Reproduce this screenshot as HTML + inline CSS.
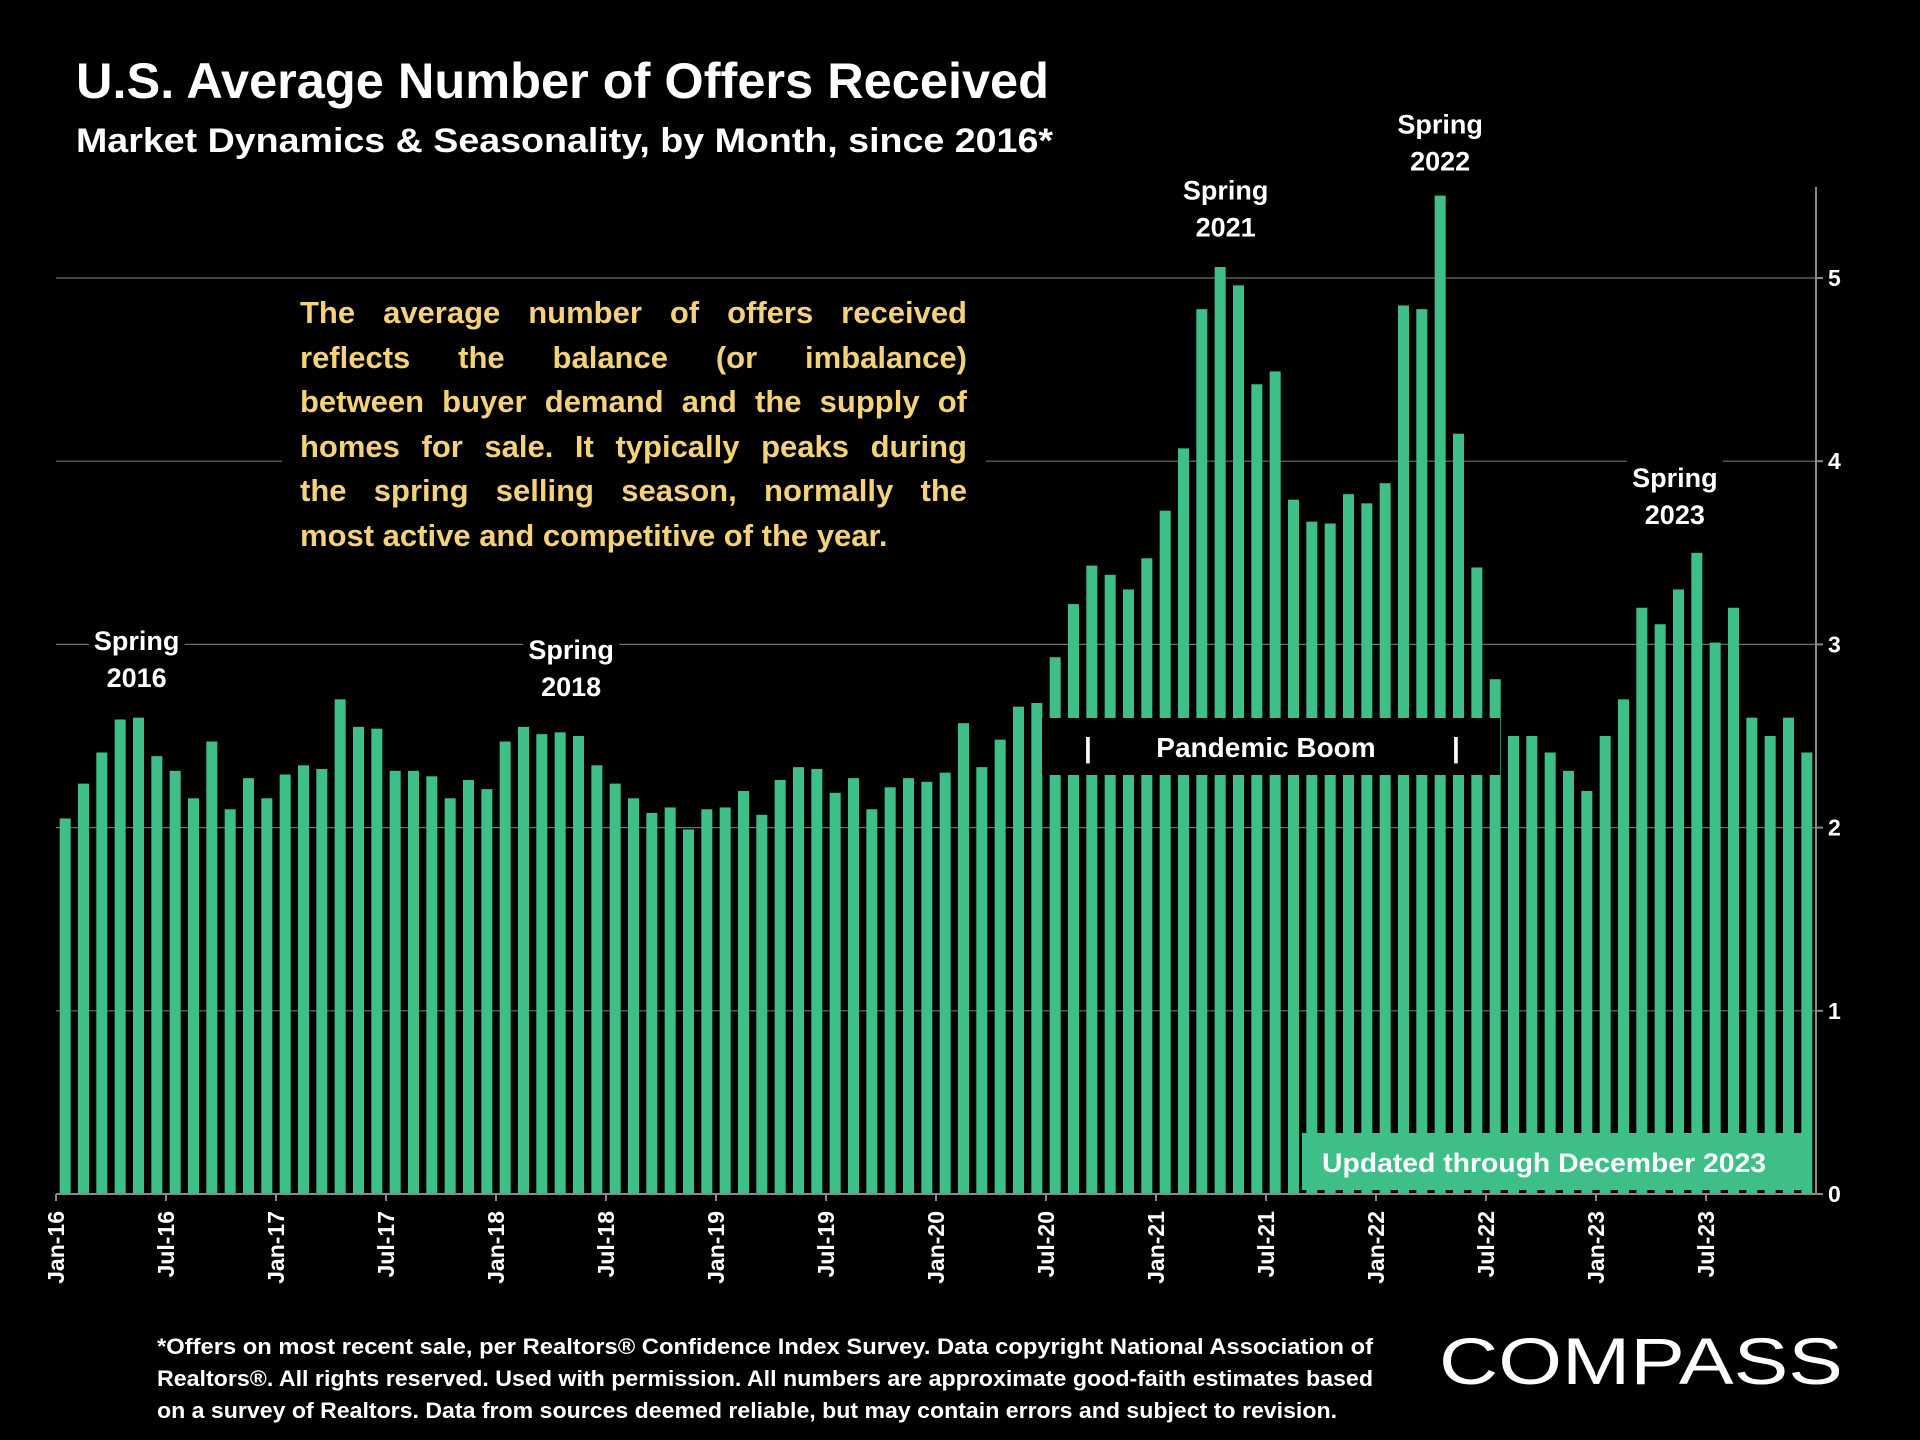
<!DOCTYPE html>
<html><head><meta charset="utf-8">
<style>
html,body{margin:0;padding:0;background:#000;}
svg{display:block;}
text{font-family:"Liberation Sans",sans-serif;font-weight:bold;}
#anno{position:absolute;left:300px;top:291px;width:667px;font-family:"Liberation Sans",sans-serif;font-weight:bold;font-size:31px;color:#f3d27a;}
#anno div{height:44.5px;line-height:44.5px;text-align:justify;text-align-last:justify;white-space:nowrap;}
#anno div.last{text-align-last:left;}
</style></head>
<body>
<svg id="chart" width="1920" height="1440" viewBox="0 0 1920 1440">
<rect x="0" y="0" width="1920" height="1440" fill="#000"/>
<text x="76" y="98" font-size="50" fill="#fff" textLength="973" lengthAdjust="spacingAndGlyphs">U.S. Average Number of Offers Received</text>
<text x="76" y="152" font-size="34" fill="#fff" textLength="977" lengthAdjust="spacingAndGlyphs">Market Dynamics &amp; Seasonality, by Month, since 2016*</text>
<g id="grid"></g>
<g id="springbg"></g>
<g id="bars"></g>
<g id="axes"></g>
<g id="xlabels"></g>
<g id="ylabels"></g>

<rect x="282" y="285" width="704" height="280" fill="#000"/>

<g id="springs"></g>

<rect x="1042" y="718" width="458" height="57" fill="#000"/>
<text x="1084" y="757" font-size="28" fill="#fff">|</text>
<text x="1266" y="757" font-size="28" fill="#fff" text-anchor="middle">Pandemic Boom</text>
<text x="1452" y="757" font-size="28" fill="#fff">|</text>

<rect x="1302" y="1133" width="508" height="57" fill="#3fbf88"/>
<text x="1322" y="1172" font-size="27" fill="#fff" textLength="444" lengthAdjust="spacingAndGlyphs">Updated through December 2023</text>

<g fill="#fff" font-size="22">
<text x="157" y="1354" textLength="1216" lengthAdjust="spacingAndGlyphs">*Offers on most recent sale, per Realtors® Confidence Index Survey. Data copyright National Association of</text>
<text x="157" y="1386" textLength="1216" lengthAdjust="spacingAndGlyphs">Realtors®. All rights reserved. Used with permission. All numbers are approximate good-faith estimates based</text>
<text x="157" y="1418" textLength="1180" lengthAdjust="spacingAndGlyphs">on a survey of Realtors. Data from sources deemed reliable, but may contain errors and subject to revision.</text>
</g>
<text x="1439" y="1384" font-size="66" fill="#fff" style="font-weight:normal" textLength="404" lengthAdjust="spacingAndGlyphs">COMPASS</text>
</svg>
<div id="anno">
<div>The average number of offers received</div>
<div>reflects the balance (or imbalance)</div>
<div>between buyer demand and the supply of</div>
<div>homes for sale. It typically peaks during</div>
<div>the spring selling season, normally the</div>
<div class="last">most active and competitive of the year.</div>
</div>
<script>
const categories = [];
const monthNames = ["Jan","Feb","Mar","Apr","May","Jun","Jul","Aug","Sep","Oct","Nov","Dec"];
const years = ["16","17","18","19","20","21","22","23"];
const offers = [
2.05,2.24,2.41,2.59,2.60,2.39,2.31,2.16,2.47,2.10,2.27,2.16,
2.29,2.34,2.32,2.70,2.55,2.54,2.31,2.31,2.28,2.16,2.26,2.21,
2.47,2.55,2.51,2.52,2.50,2.34,2.24,2.16,2.08,2.11,1.99,2.10,
2.11,2.20,2.07,2.26,2.33,2.32,2.19,2.27,2.10,2.22,2.27,2.25,
2.30,2.57,2.33,2.48,2.66,2.68,2.93,3.22,3.43,3.38,3.30,3.47,
3.73,4.07,4.83,5.06,4.96,4.42,4.49,3.79,3.67,3.66,3.82,3.77,
3.88,4.85,4.83,5.45,4.15,3.42,2.81,2.50,2.50,2.41,2.31,2.20,
2.50,2.70,3.20,3.11,3.30,3.50,3.01,3.20,2.60,2.50,2.60,2.41];
const yTicks = [0,1,2,3,4,5];
const springLabels = ["Spring 2016","Spring 2018","Spring 2021","Spring 2022","Spring 2023"];
const springIndex = [3.9,27.6,63.3,75,87.8];
const springValue = [3.10,3.05,5.56,5.92,3.99];
years.forEach(y=>monthNames.forEach(m=>categories.push(m+"-"+y)));

const NS="http://www.w3.org/2000/svg";
const X0=56, X1=1816, Y0=1194, YPER=183.2;
const slot=(X1-X0)/categories.length;
const xS=i=>X0+slot*i;
const yS=v=>Y0-v*YPER;
function mk(tag,attrs,parent){const e=document.createElementNS(NS,tag);for(const k in attrs)e.setAttribute(k,attrs[k]);parent.appendChild(e);return e;}

const grid=document.getElementById('grid');
yTicks.forEach(t=>{if(t===0)return;
 const l=mk('line',{x1:X0,x2:X1,y1:yS(t),y2:yS(t),stroke:'#6e6e6e','stroke-width':1.2},grid);
 
 
});
const bars=document.getElementById('bars');
offers.forEach((v,i)=>{
 const r=mk('rect',{x:xS(i)+slot*0.2,y:yS(v),width:slot*0.6,height:Y0-yS(v),fill:'#3fbf88'},bars);
 
 
});
const axes=document.getElementById('axes');
let a=mk('line',{x1:X0,x2:X1,y1:Y0,y2:Y0,stroke:'#8a8a8a','stroke-width':2},axes);


a=mk('line',{x1:X1,x2:X1,y1:Y0,y2:187,stroke:'#8a8a8a','stroke-width':2},axes);


const ylab=document.getElementById('ylabels');
yTicks.forEach(t=>{
 const tk=mk('line',{x1:X1,x2:X1+7,y1:yS(t),y2:yS(t),stroke:'#8a8a8a','stroke-width':2},axes);
 
 
 const tx=mk('text',{x:1828,y:yS(t)+8,'font-size':23,fill:'#fff'},ylab);
 tx.textContent=t;
 
 
});
const xl=document.getElementById('xlabels');
categories.forEach((c,i)=>{
 if(i%6!==0)return;
 const tk=mk('line',{x1:xS(i),x2:xS(i),y1:Y0,y2:Y0+7,stroke:'#8a8a8a','stroke-width':2},axes);
 
 
 const cx=xS(i)+8, cy=1211;
 const tx=mk('text',{x:cx,y:cy,'font-size':23,fill:'#fff','text-anchor':'end',transform:`rotate(-90 ${cx} ${cy})`},xl);
 tx.textContent=c;
 
 
});
const sp=document.getElementById('springs');
const spbg=document.getElementById('springbg');
springLabels.forEach((s,k)=>{
 const cx=xS(springIndex[k])+slot/2, top=yS(springValue[k]);
 const bg=mk('rect',{x:cx-48,y:top-4,width:96,height:76,fill:'#000'},spbg);
 
 
 const parts=s.split(' ');
 parts.forEach((p,j)=>{
  const tx=mk('text',{x:cx,y:top+24+j*37,'font-size':27,fill:'#fff','text-anchor':'middle'},sp);
  tx.textContent=p;
  
  
 });
});
</script>
</body></html>
